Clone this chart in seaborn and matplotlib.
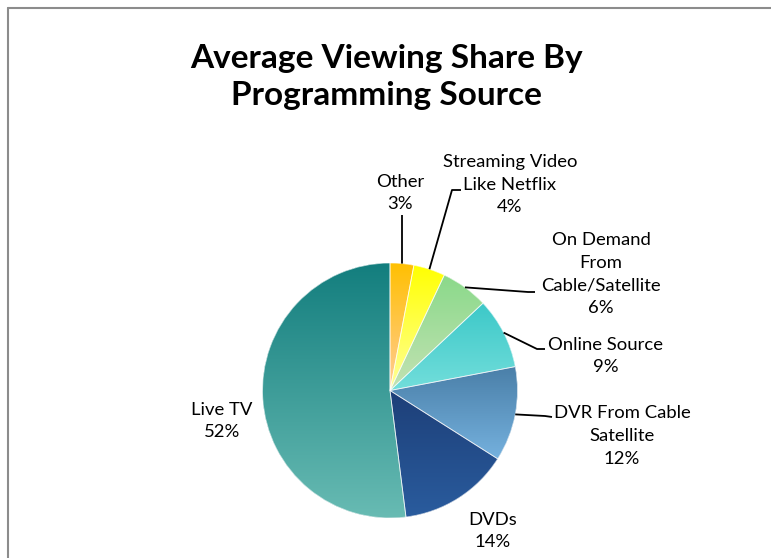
import numpy as np
import matplotlib
matplotlib.use("Agg")
import matplotlib.pyplot as plt
import seaborn as sns
from matplotlib.lines import Line2D

# Programming sources, clockwise from 12 o'clock
sources = ["Other", "Streaming Video\nLike Netflix", "On Demand\nFrom\nCable/Satellite",
           "Online Source", "DVR From Cable\nSatellite", "DVDs", "Live TV"]
shares = [3, 4, 6, 9, 12, 14, 52]

# Each slice is shaded with a vertical gradient (top colour -> bottom colour)
top_colors = ["#ffc000", "#ffff00", "#8ad98a", "#3cc8c8", "#4a7fa8", "#1d3f78", "#137e7e"]
bottom_colors = ["#ffcc99", "#ffff99", "#c3e2b3", "#72dedb", "#75b1de", "#2a5c9e", "#68bbb3"]

W, H = 771, 558

# Label block centres and leader-line elbows (pixel coordinates, y downwards)
label_pos = [(400, 193), (510, 185), (601, 274), (606, 356), (622, 436), (493, 531), (222, 421)]
leader_pts = [
    [(402, 215)],
    [(452, 190), (461, 190)],
    [(528, 292), (535, 292)],
    [(537, 349), (545, 349)],
    [(545, 416), (552, 417)],
    None,
    None,
]

sns.set_theme(style="white")
plt.rcParams["font.family"] = ["Lato", "DejaVu Sans"]

fig = plt.figure(figsize=(W / 100, H / 100), dpi=100)
ax = fig.add_axes([0, 0, 1, 1])

cx, cy, R = 390.0, H - 390.5, 127.5
wedges, _ = ax.pie(shares, startangle=90, counterclock=False, center=(cx, cy), radius=R,
                   colors=top_colors, wedgeprops=dict(linewidth=0))

grad = np.linspace(0, 1, 256).reshape(-1, 1)
for w, c_top, c_bot in zip(wedges, top_colors, bottom_colors):
    bb = w.get_path().get_extents()
    cmap = sns.blend_palette([c_bot, c_top], n_colors=256, as_cmap=True)
    im = ax.imshow(grad, cmap=cmap, origin="lower", aspect="auto", interpolation="bilinear",
                   extent=(bb.x0, bb.x1, bb.y0, bb.y1), zorder=2)
    im.set_clip_path(w)

# thin separators between slices
ax.pie(shares, startangle=90, counterclock=False, center=(cx, cy), radius=R,
       colors=["none"] * len(shares),
       wedgeprops=dict(linewidth=0.6, edgecolor=(1, 1, 1, 0.7), zorder=3))

# labels and leader lines
theta = 90 - (np.cumsum(shares) - np.array(shares) / 2) / sum(shares) * 360
for name, val, ang, (lx, ly), pts in zip(sources, shares, theta, label_pos, leader_pts):
    ax.text(lx, H - ly, f"{name}\n{val}%", ha="center", va="center", fontsize=13.3,
            linespacing=1.5, color="black", zorder=5)
    if pts:
        sx = cx + R * np.cos(np.radians(ang))
        sy = cy + R * np.sin(np.radians(ang))
        xs = [sx] + [p[0] for p in pts]
        ys = [sy] + [H - p[1] for p in pts]
        ax.plot(xs, ys, color="black", lw=1.3, zorder=4, solid_capstyle="butt")

ax.text(386, H - 77, "Average Viewing Share By\nProgramming Source", ha="center", va="center",
        fontsize=24, fontweight="bold", linespacing=1.3, color="black")

ax.set_xlim(0, W)
ax.set_ylim(0, H)
ax.set_aspect("equal")
ax.axis("off")

# chart-area border (left and top edges visible)
fig.add_artist(Line2D([7.5 / W, 7.5 / W], [0, 1 - 7.5 / H], color="#8c8c8c", lw=1.5))
fig.add_artist(Line2D([7.5 / W, 1], [1 - 7.5 / H, 1 - 7.5 / H], color="#8c8c8c", lw=1.5))

fig.savefig("out.png", dpi=100, facecolor="white")
